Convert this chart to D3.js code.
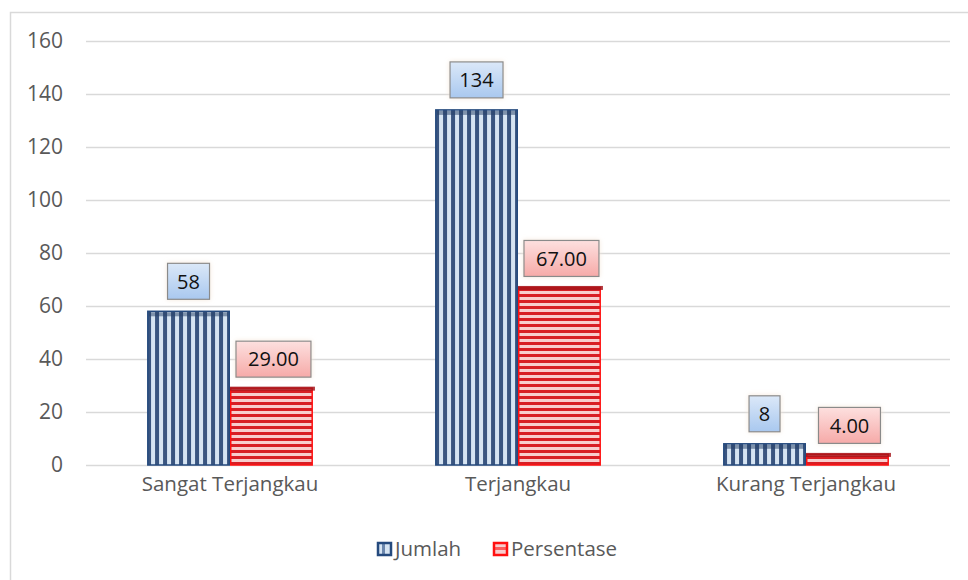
<!DOCTYPE html>
<html>
<head>
<meta charset="utf-8">
<script src="https://cdn.jsdelivr.net/npm/d3@7"></script>
<style>
  html, body { margin: 0; padding: 0; background: #fff; }
  svg { display: block; }
  text { font-family: "Open Sans", "Noto Sans", sans-serif; }
</style>
</head>
<body>
<svg id="chart" width="968" height="580"></svg>
<script>
const categories = ["Sangat Terjangkau", "Terjangkau", "Kurang Terjangkau"];
const seriesNames = ["Jumlah", "Persentase"];
const jumlah = [58, 134, 8];
const persentase = [29.00, 67.00, 4.00];
const jumlahLabels = ["58", "134", "8"];
const persentaseLabels = ["29.00", "67.00", "4.00"];
const yTicks = [0, 20, 40, 60, 80, 100, 120, 140, 160];

const svg = d3.select("#chart");

// chart border
svg.append("rect").attr("x", 10.5).attr("y", 12.5).attr("width", 980).attr("height", 600)
  .attr("fill", "#fff").attr("stroke", "#d9d9d9").attr("stroke-width", 1.5);

const defs = svg.append("defs");
const pj = defs.append("pattern").attr("id", "pJ").attr("patternUnits", "userSpaceOnUse")
  .attr("width", 8).attr("height", 8);
pj.append("rect").attr("width", 8).attr("height", 8).attr("fill", "#d6e4f2");
pj.append("rect").attr("x", 0).attr("width", 4).attr("height", 8).attr("fill", "#3a5580");
const pp = defs.append("pattern").attr("id", "pP").attr("patternUnits", "userSpaceOnUse")
  .attr("width", 6).attr("height", 6);
pp.append("rect").attr("width", 6).attr("height", 6).attr("fill", "#f8cdcd");
pp.append("rect").attr("y", 0).attr("width", 6).attr("height", 3).attr("fill", "#d81e24");
const gB = defs.append("linearGradient").attr("id", "gB").attr("x1", 0).attr("y1", 0).attr("x2", 0).attr("y2", 1);
gB.append("stop").attr("offset", "0%").attr("stop-color", "#dbe8f8");
gB.append("stop").attr("offset", "100%").attr("stop-color", "#a9c8ef");
const gR = defs.append("linearGradient").attr("id", "gR").attr("x1", 0).attr("y1", 0).attr("x2", 0).attr("y2", 1);
gR.append("stop").attr("offset", "0%").attr("stop-color", "#fde0df");
gR.append("stop").attr("offset", "100%").attr("stop-color", "#f6aaa8");
const glow = defs.append("filter").attr("id", "glow").attr("x", "-30%").attr("y", "-30%").attr("width", "160%").attr("height", "160%");
glow.append("feGaussianBlur").attr("in", "SourceAlpha").attr("stdDeviation", 2.5).attr("result", "b");
glow.append("feFlood").attr("flood-color", "#f4e6d8").attr("flood-opacity", 0.9);
glow.append("feComposite").attr("in2", "b").attr("operator", "in").attr("result", "g");
const fm = glow.append("feMerge");
fm.append("feMergeNode").attr("in", "g");
fm.append("feMergeNode").attr("in", "SourceGraphic");

const x0 = d3.scaleBand().domain(categories).range([86, 950]).paddingInner(0.424).paddingOuter(0.212);
const x1 = d3.scaleBand().domain(seriesNames).range([0, x0.bandwidth()]);
const y = d3.scaleLinear().domain([0, 160]).range([465, 41]);

// gridlines
svg.append("g").selectAll("line").data(yTicks).join("line")
  .attr("x1", 86).attr("x2", 950)
  .attr("y1", d => Math.round(y(d)) + 0.5).attr("y2", d => Math.round(y(d)) + 0.5)
  .attr("stroke", "#d9d9d9").attr("stroke-width", 1.3);

// y axis labels
const yAxis = d3.axisLeft(y).tickValues(yTicks).tickSize(0).tickPadding(0);
const gy = svg.append("g").attr("transform", "translate(63,0)").call(yAxis);
gy.select(".domain").remove();
gy.selectAll("text").attr("font-size", 21).attr("fill", "#595959")
  .attr("font-family", "'Open Sans', sans-serif");

// x axis labels
const xAxis = d3.axisBottom(x0).tickSize(0).tickPadding(0);
const gx = svg.append("g").attr("transform", "translate(0,476)").call(xAxis);
gx.select(".domain").remove();
gx.selectAll("text").attr("font-size", 20.5).attr("fill", "#595959")
  .attr("font-family", "'Open Sans', sans-serif");

const data = categories.map((c, i) => ({
  cat: c,
  vals: [
    { s: "Jumlah", v: jumlah[i], lab: jumlahLabels[i] },
    { s: "Persentase", v: persentase[i], lab: persentaseLabels[i] }
  ]
}));

const groups = svg.append("g").selectAll("g").data(data).join("g")
  .attr("transform", d => `translate(${x0(d.cat)},0)`);

groups.selectAll("rect.bar").data(d => d.vals).join("rect").attr("class", "bar")
  .attr("x", d => x1(d.s) + 0.75)
  .attr("y", d => y(d.v))
  .attr("width", x1.bandwidth() - 1.5)
  .attr("height", d => y(0) - y(d.v))
  .attr("fill", d => d.s === "Jumlah" ? "url(#pJ)" : "url(#pP)")
  .attr("stroke", d => d.s === "Jumlah" ? "#254a7e" : "#ff1010")
  .attr("stroke-width", 1.5);

groups.selectAll("rect.top").data(d => d.vals).join("rect").attr("class", "top")
  .attr("x", d => x1(d.s) + (d.s === "Jumlah" ? 2 : 0))
  .attr("y", d => y(d.v) + (d.s === "Jumlah" ? 1 : -1.5))
  .attr("width", d => x1.bandwidth() - (d.s === "Jumlah" ? 4 : -2))
  .attr("height", 4)
  .attr("fill", d => d.s === "Jumlah" ? "#253f66" : "#a5151b")
  .attr("opacity", d => d.s === "Jumlah" ? 0.5 : 0.85);

const labs = groups.selectAll("g.lab").data(d => d.vals).join("g").attr("class", "lab")
  .attr("transform", d => `translate(${x1(d.s) + x1.bandwidth() / 2 + (d.s === "Jumlah" ? 0 : 2)},${y(d.v) - (d.s === "Jumlah" ? 30 : 29)})`);
labs.append("rect")
  .attr("x", d => d.s === "Jumlah" ? -(d.lab.length * 11 + 20) / 2 : -(d.lab.length * 13 + 10) / 2)
  .attr("width", d => d.s === "Jumlah" ? d.lab.length * 11 + 20 : d.lab.length * 13 + 10)
  .attr("y", -18).attr("height", 36)
  .attr("fill", d => d.s === "Jumlah" ? "url(#gB)" : "url(#gR)")
  .attr("stroke", "#8a8a8a").attr("stroke-width", 1.2)
  .attr("filter", "url(#glow)");
labs.append("text").attr("text-anchor", "middle").attr("dy", "0.36em")
  .attr("font-size", 20).attr("fill", "#111")
  .text(d => d.lab);

// legend
const legend = svg.append("g").attr("transform", "translate(378,549)");
const items = [
  { s: "Jumlah", stroke: "#254a7e", x: 0 },
  { s: "Persentase", stroke: "#ff1010", x: 116 }
];
const li = legend.selectAll("g").data(items).join("g").attr("transform", d => `translate(${d.x},0)`);
li.append("rect").attr("x", 0).attr("y", -6).attr("width", 13).attr("height", 12)
  .attr("fill", d => d.s === "Jumlah" ? "#d6e4f2" : "#f8cdcd")
  .attr("stroke", d => d.stroke).attr("stroke-width", 2.5);
li.append("rect").attr("x", d => d.s === "Jumlah" ? 4 : 1).attr("y", d => d.s === "Jumlah" ? -5 : -2)
  .attr("width", d => d.s === "Jumlah" ? 3 : 11).attr("height", d => d.s === "Jumlah" ? 10 : 3)
  .attr("fill", d => d.s === "Jumlah" ? "#254a7e" : "#ff1010").attr("opacity", 0.6);
li.append("text").attr("x", 17).attr("dy", "0.36em").attr("font-size", 20.5).attr("fill", "#595959")
  .text(d => d.s);
</script>
</body>
</html>
